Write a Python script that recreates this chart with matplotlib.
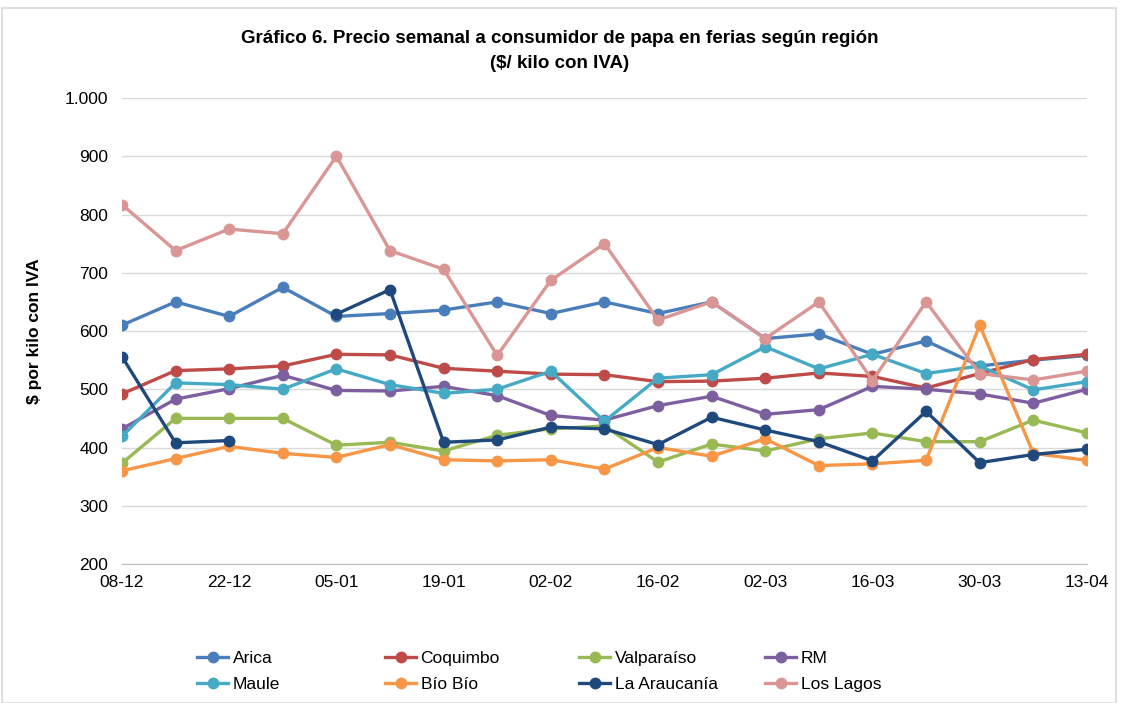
import numpy as np
import matplotlib
matplotlib.use('Agg')
import matplotlib.pyplot as plt
from matplotlib.ticker import FuncFormatter
from matplotlib.patches import Rectangle

plt.rcParams['font.family'] = ['Liberation Sans', 'DejaVu Sans']

semanas = ['08-12', '15-12', '22-12', '29-12', '05-01', '12-01', '19-01', '26-01', '02-02', '09-02',
           '16-02', '23-02', '02-03', '09-03', '16-03', '23-03', '30-03', '06-04', '13-04']

arica = [610, 650, 625, 675, 625, 630, 636, 650, 630, 650, 630, 650, 587, 595, 560, 583, 540, 550, 558]
coquimbo = [492, 532, 535, 540, 560, 559, 536, 531, 526, 525, 513, 514, 519, 528, 522, 502, 527, 551, 560]
valparaiso = [373, 450, 450, 450, 404, 409, 394, 421, 432, 437, 375, 406, 394, 415, 425, 410, 410, 447, 425]
rm = [432, 483, 501, 524, 498, 497, 505, 489, 455, 447, 472, 488, 457, 465, 505, 500, 492, 476, 500]
maule = [419, 511, 508, 500, 535, 508, 493, 500, 531, 445, 519, 525, 573, 535, 560, 527, 540, 499, 513]
biobio = [360, 381, 402, 390, 383, 405, 379, 377, 379, 363, 400, 385, 415, 369, 372, 378, 610, 390, 378]
araucania = [556, 408, 412, np.nan, 629, 671, 409, 413, 435, 432, 405, 452, 430, 410, 377, 462, 374, 388, 397]
los_lagos = [817, 738, 775, 767, 900, 738, 706, 558, 687, 750, 619, 650, 587, 650, 515, 650, 527, 516, 531]

series = [
    ('Arica', arica, '#4a7ebb'),
    ('Coquimbo', coquimbo, '#be4b48'),
    ('Valparaíso', valparaiso, '#98b954'),
    ('RM', rm, '#7d5fa0'),
    ('Maule', maule, '#46aac5'),
    ('Bío Bío', biobio, '#f79646'),
    ('La Araucanía', araucania, '#1f497d'),
    ('Los Lagos', los_lagos, '#d99694'),
]

fig = plt.figure(figsize=(11.24, 7.03), dpi=100)
fig.patches.append(Rectangle((0.002, 0.0), 0.991, 0.988, transform=fig.transFigure,
                             fill=False, edgecolor='#d9d9d9', lw=1.2))
ax = fig.add_axes([0.1085, 0.1977, 0.8585, 0.6629])

x = np.arange(len(semanas))
lines = []
for name, vals, col in series:
    ln, = ax.plot(x, vals, color=col, lw=2.4, marker='o', markersize=7.5, label=name)
    lines.append(ln)

ax.set_xlim(0, len(semanas) - 1)
ax.set_ylim(200, 1000)
ax.set_yticks(np.arange(200, 1001, 100))
ax.yaxis.set_major_formatter(FuncFormatter(lambda v, p: f'{int(v):,}'.replace(',', '.')))
ax.set_xticks(x[::2])
ax.set_xticklabels(semanas[::2])
ax.grid(axis='y', color='#d9d9d9', lw=1)
ax.set_axisbelow(True)
for s in ['top', 'right', 'left']:
    ax.spines[s].set_visible(False)
ax.spines['bottom'].set_color('#bfbfbf')
ax.tick_params(axis='both', length=0, labelsize=12.5, colors='#000000')
ax.tick_params(axis='x', pad=8)
ax.tick_params(axis='y', pad=10)

ax.set_ylabel('$ por kilo con IVA', fontsize=12.5, fontweight='bold', labelpad=16)
fig.text(0.498, 0.945, 'Gráfico 6. Precio semanal a consumidor de papa en ferias según región',
         ha='center', va='center', fontsize=13.5, fontweight='bold')
fig.text(0.498, 0.91, '($/ kilo con IVA)', ha='center', va='center', fontsize=13.5, fontweight='bold')

# legend: 4 columns, filled row by row like the original
col_x = [197, 385, 579, 765]
for i, cx in enumerate(col_x):
    hs = [lines[i], lines[i + 4]]
    fig.legend(hs, [h.get_label() for h in hs], loc='upper left',
               bbox_to_anchor=(cx / 1124, 1 - 651 / 703), frameon=False, fontsize=12.5,
               handlelength=1.8, handletextpad=0.25, labelspacing=0.62,
               borderpad=0, borderaxespad=0)

fig.savefig('out.png', dpi=100)
